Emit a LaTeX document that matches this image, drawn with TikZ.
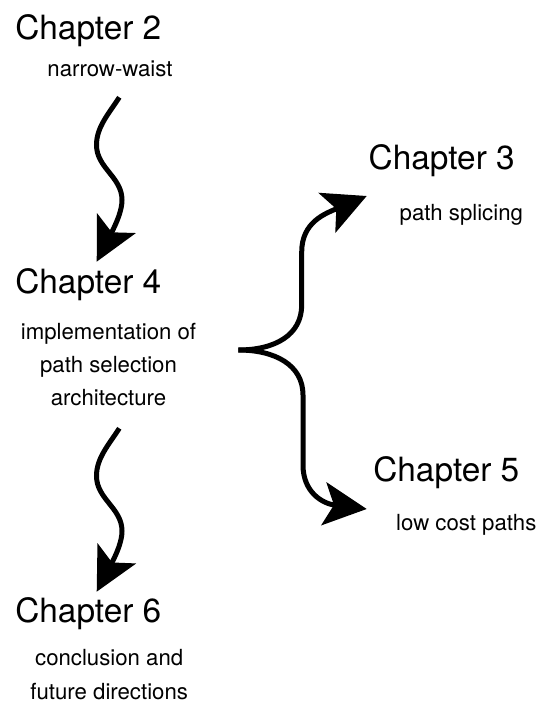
\documentclass[tikz,border=0pt]{standalone}
\usepackage{fontspec}
\setmainfont{TeX Gyre Heros}
\usetikzlibrary{arrows.meta}
\begin{document}
\begin{tikzpicture}[x=1pt,y=-1pt,
  chapter/.style={inner sep=0pt, anchor=base, font=\fontsize{33.4}{40}\selectfont},
  note/.style={inner sep=0pt, anchor=base, align=center, font=\fontsize{22.2}{33.2}\selectfont},
  flow/.style={line width=5pt, -{Stealth[length=43pt,width=43pt,inset=10pt]}}]
\useasboundingbox (0,0) rectangle (538,703);

% chapter titles and their descriptions (multi-line notes sit on their last baseline)
\node[chapter] (ch2) at (88.3,39.4) {Chapter 2};
\node[note] (ch2n) at (110,77) {narrow-waist};
\node[chapter] (ch4) at (88.3,293) {Chapter 4};
\node[note] (ch4n) at (108.5,405.5) {implementation of\\path selection\\architecture};
\node[chapter] (ch3) at (441.7,169.4) {Chapter 3};
\node[note] (ch3n) at (461.3,220.3) {path splicing};
\node[chapter] (ch5) at (446.3,481.7) {Chapter 5};
\node[note] (ch5n) at (466.3,530) {low cost paths};
\node[chapter] (ch6) at (88.3,622.7) {Chapter 6};
\node[note] (ch6n) at (109.2,699) {conclusion and\\future directions};

% end points of the connectors
\coordinate (w1s) at (119.3,97.3);
\coordinate (w1e) at (96.7,261.7);
\coordinate (w2s) at (119.3,428.3);
\coordinate (w2e) at (96.7,591.7);
\coordinate (fork) at (238.3,350);
\coordinate (up) at (366.7,196);
\coordinate (down) at (366.7,509);

% wavy arrows down the left column
\draw[flow] (w1s) .. controls (108.6,114) and (96.5,127) .. (96.5,145)
  .. controls (96.5,168) and (122,177) .. (122,200)
  .. controls (122,210) and (117,222) .. (w1e);
\draw[flow] (w2s) .. controls (108.6,445) and (96.5,458) .. (96.5,476)
  .. controls (96.5,499) and (122,508) .. (122,531)
  .. controls (122,541) and (117,553) .. (w2e);

% brace-shaped fork to the right column
\draw[flow] (fork) .. controls (275,350) and (301.7,335) .. (301.7,305)
  -- (301.7,252) .. controls (301.7,222) and (325.3,213.5) .. (up);
\draw[flow] (fork) .. controls (275,350) and (303,365) .. (303,395)
  -- (303,465) .. controls (303,492) and (322.1,503.6) .. (down);
\end{tikzpicture}
\end{document}
